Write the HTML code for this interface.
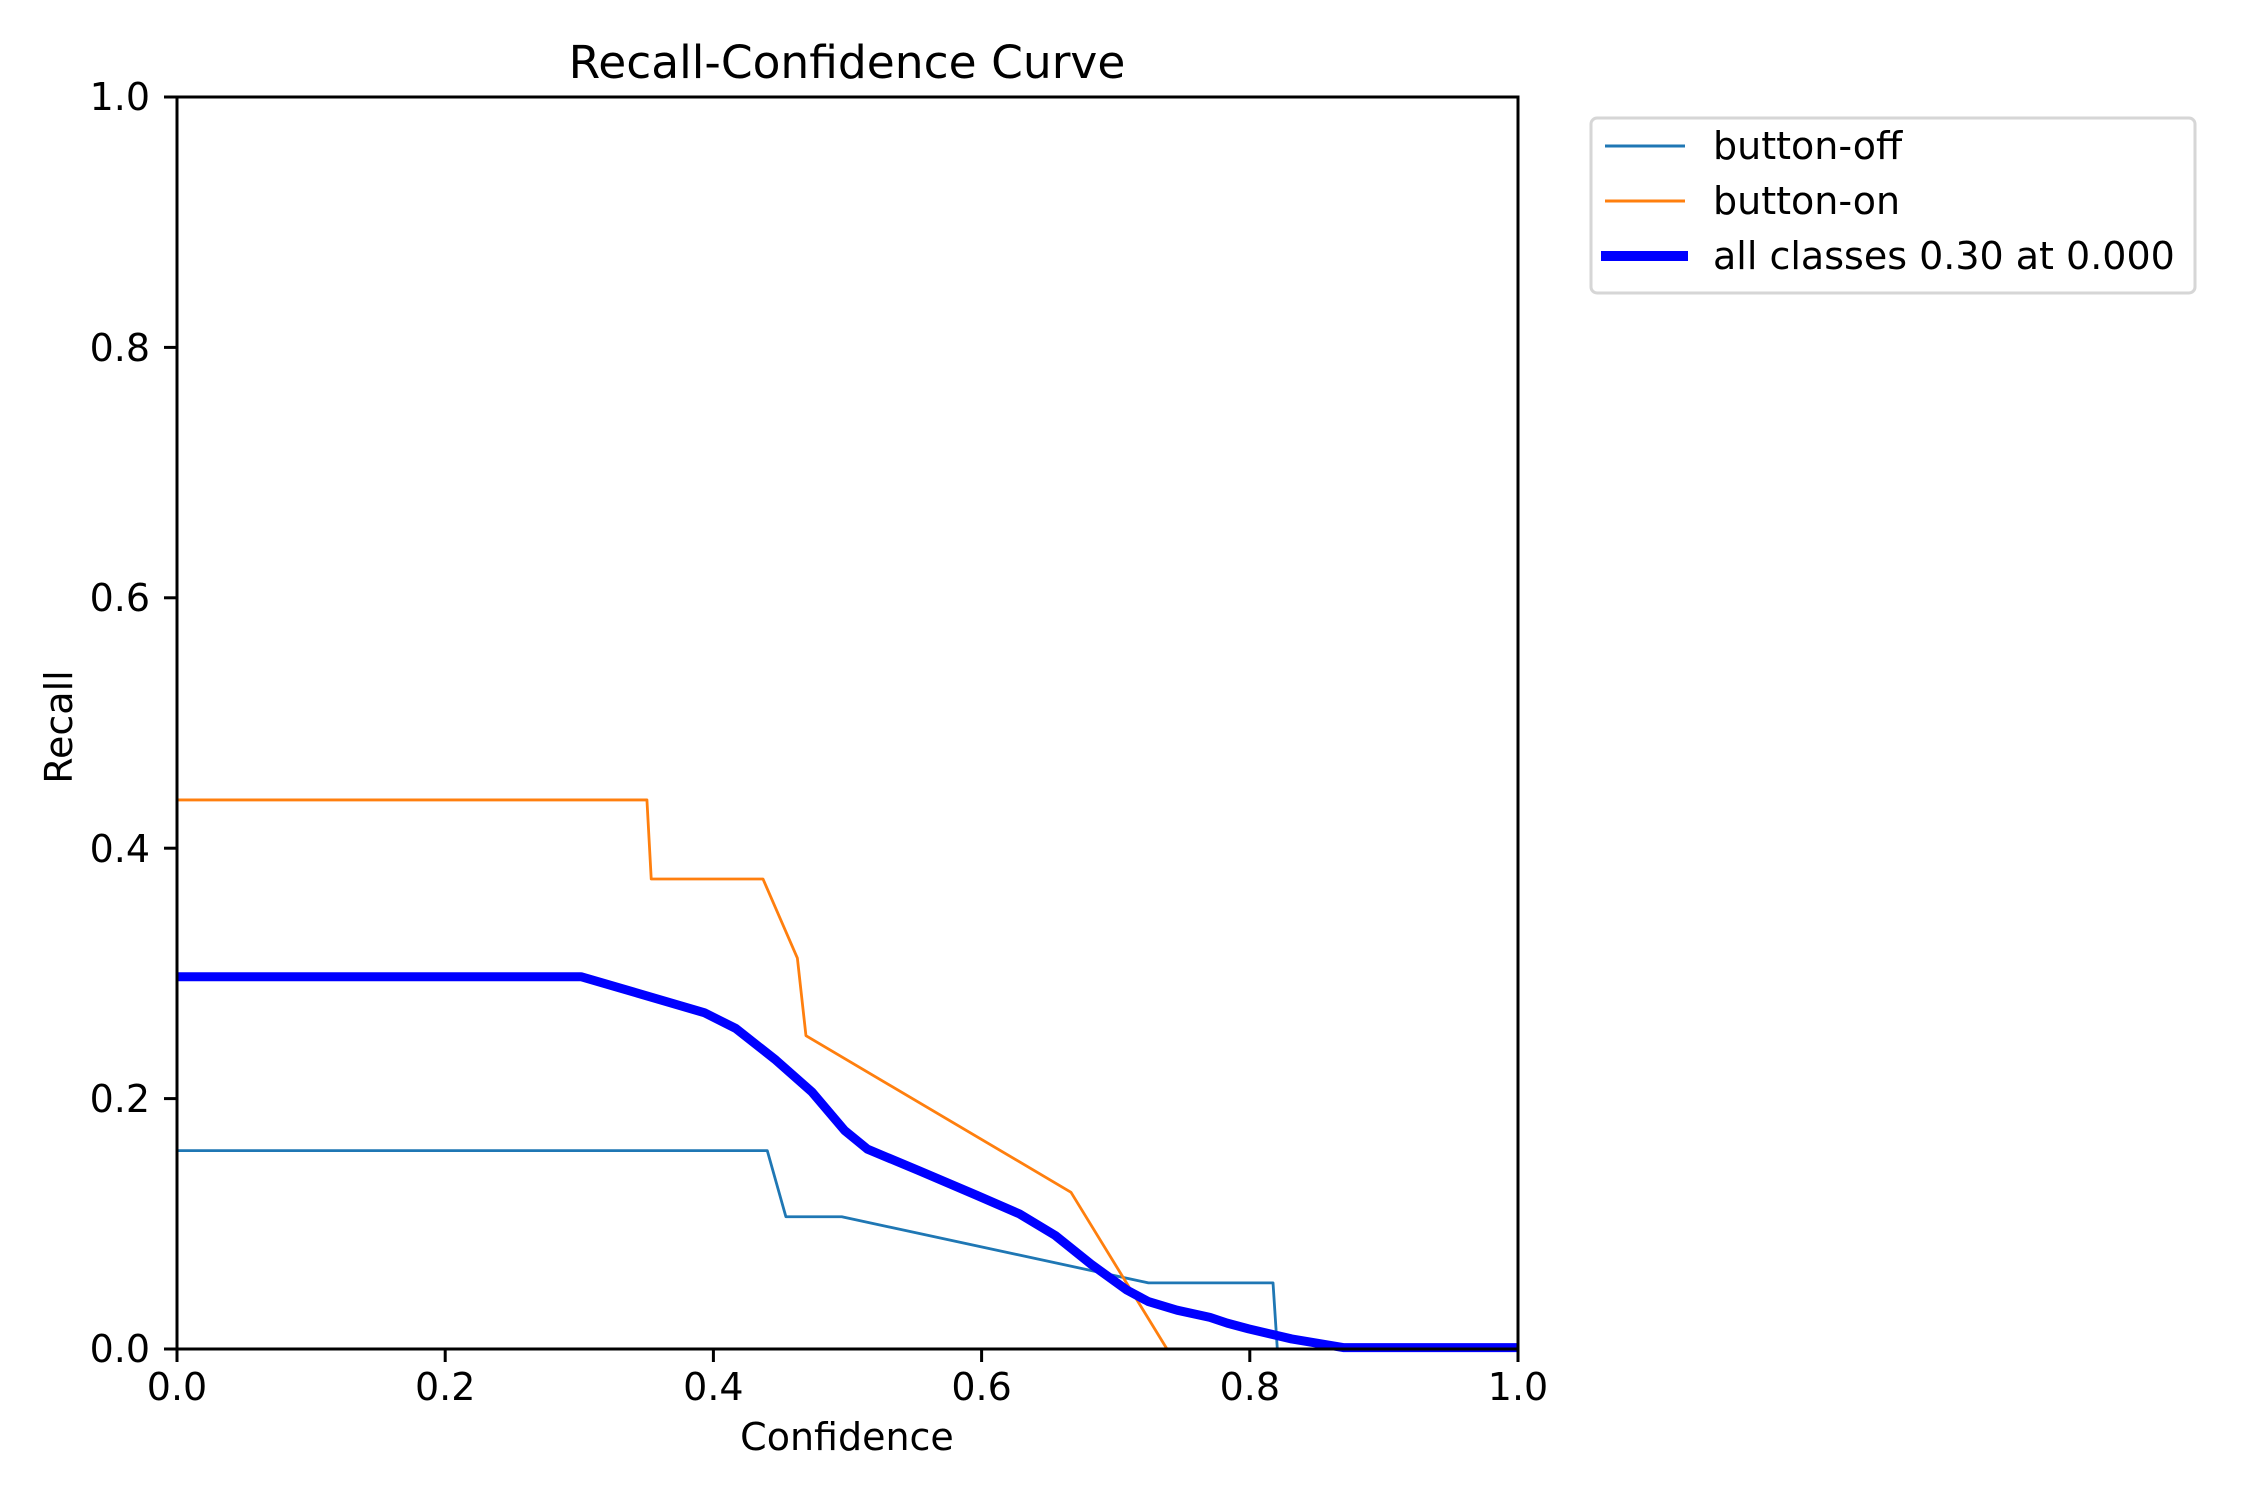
<!DOCTYPE html>
<html><head><meta charset="utf-8"><style>
html,body{margin:0;padding:0;background:#fff;}
svg{display:block;}
text{font-family:"DejaVu Sans","Liberation Sans",sans-serif;fill:#000;}
</style></head><body>
<svg width="2250" height="1500" viewBox="0 0 2250 1500" xmlns="http://www.w3.org/2000/svg">
<rect width="2250" height="1500" fill="#fff"/>
<g transform="translate(177,1349) scale(1.4327,1.4374) translate(-122,-939)" fill="none" stroke-linejoin="round">
<polyline vector-effect="non-scaling-stroke" stroke="#1f77b4" stroke-width="2.8" points="122,801 534,801 547,847 586,847 800,893 887,893 890,939 1058,939"/>
<polyline vector-effect="non-scaling-stroke" stroke="#ff7f0e" stroke-width="2.8" points="122,557 450,557 453,612 531,612 555,667 561,721 746,830 813,939 1058,939"/>
<polyline vector-effect="non-scaling-stroke" stroke="#0000ff" stroke-width="9" points="122,680 404,680 490,705 512,716 540,738 565,760 588,787 604,800 640,815 680,832 710,845 735,860 760,880 785,898 800,906 820,912 843,917 855,921 870,925 900,932 936,938 1058,938"/>
</g>
<rect x="177" y="97" width="1341" height="1252" fill="none" stroke="#000" stroke-width="3"/>
<g stroke="#000" stroke-width="3">
<line x1="177" y1="1349" x2="177" y2="1362"/><line x1="445.2" y1="1349" x2="445.2" y2="1362"/><line x1="713.4" y1="1349" x2="713.4" y2="1362"/><line x1="981.6" y1="1349" x2="981.6" y2="1362"/><line x1="1249.8" y1="1349" x2="1249.8" y2="1362"/><line x1="1518" y1="1349" x2="1518" y2="1362"/>
<line x1="164" y1="1349" x2="177" y2="1349"/><line x1="164" y1="1098.6" x2="177" y2="1098.6"/><line x1="164" y1="848.2" x2="177" y2="848.2"/><line x1="164" y1="597.8" x2="177" y2="597.8"/><line x1="164" y1="347.4" x2="177" y2="347.4"/><line x1="164" y1="97" x2="177" y2="97"/>
</g>
<g font-size="38" text-anchor="middle">
<text x="177" y="1400">0.0</text><text x="445.2" y="1400">0.2</text><text x="713.4" y="1400">0.4</text><text x="981.6" y="1400">0.6</text><text x="1249.8" y="1400">0.8</text><text x="1518" y="1400">1.0</text>
</g>
<g font-size="38" text-anchor="end">
<text x="150" y="1362">0.0</text><text x="150" y="1112">0.2</text><text x="150" y="862">0.4</text><text x="150" y="611">0.6</text><text x="150" y="361">0.8</text><text x="150" y="110">1.0</text>
</g>
<text x="847" y="78" font-size="45.5" text-anchor="middle">Recall-Confidence Curve</text>
<text x="847" y="1450" font-size="38" text-anchor="middle">Confidence</text>
<text transform="translate(72,727) rotate(-90)" font-size="38" text-anchor="middle">Recall</text>
<rect x="1591" y="118" width="604" height="175" rx="6" fill="#fff" stroke="#d6d6d6" stroke-width="3"/>
<line x1="1605" y1="146" x2="1685" y2="146" stroke="#1f77b4" stroke-width="3"/>
<line x1="1605" y1="201" x2="1685" y2="201" stroke="#ff7f0e" stroke-width="3"/>
<line x1="1601" y1="256" x2="1688" y2="256" stroke="#0000ff" stroke-width="10"/>
<g font-size="38">
<text x="1713" y="159">button-off</text>
<text x="1713" y="214">button-on</text>
<text x="1713" y="269">all classes 0.30 at 0.000</text>
</g>
</svg>
</body></html>
